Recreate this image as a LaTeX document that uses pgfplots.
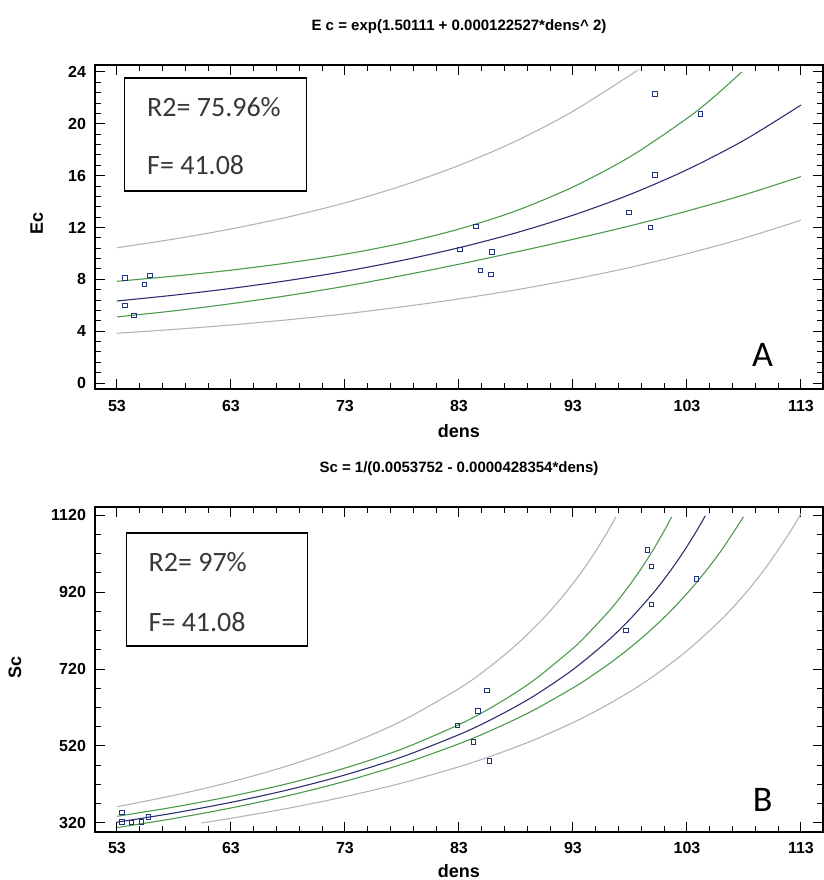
\documentclass[border=0pt]{standalone}
\usepackage{fontspec}
\setmainfont{Liberation Sans}
\newfontfamily\calib{Carlito}
\usepackage{pgfplots}
\pgfplotsset{compat=1.18}

\definecolor{fitline}{HTML}{2E2E72}
\definecolor{confband}{HTML}{4C9A4C}
\definecolor{predband}{HTML}{B4B4B4}
\definecolor{obs}{HTML}{1F3282}
\definecolor{boxtext}{HTML}{383838}

\tikzset{boxlbl/.style={anchor=west, text=boxtext, font=\calib\fontsize{14}{16}\selectfont}}

\pgfplotsset{
  regplot/.style={
    scale only axis, width=364pt,
    xmin=51.07, xmax=114.93,
    xtick={53,63,...,113}, minor x tick num=4,
    tick align=inside, major tick length=5pt, minor tick length=3pt,
    axis line style={line width=0.6pt},
    every tick/.style={black, line width=0.5pt},
    ticklabel style={font=\bfseries\fontsize{8}{9}\selectfont},
    xticklabel style={anchor=center, yshift=-8.5pt},
    yticklabel style={xshift=-1pt},
    /pgf/number format/assume math mode=true,
    /pgf/number format/1000 sep={},
    label style={font=\bfseries\fontsize{9}{10}\selectfont},
    every axis title shift=0pt,
    title style={font=\bfseries\fontsize{7.5}{9}\selectfont,
      at={(axis description cs:0.5,1)}, anchor=center, yshift=19pt},
    xlabel=dens,
  },
  fit/.style={fitline, line width=0.55pt, smooth, no marks},
  conf/.style={confband, line width=0.55pt, smooth, no marks},
  pred/.style={predband, line width=0.55pt, smooth, no marks},
  pts/.style={only marks, mark=square, mark size=1.1pt,
    mark options={obs, line width=0.45pt}},
}

\begin{document}
\begin{tikzpicture}
\path[use as bounding box] (-47.5pt,-24pt) rectangle (364.5pt,416pt);

% ---- A: Ec ----
\begin{axis}[regplot, at={(0pt,221.5pt)}, anchor=south west,
    height=162pt, ymin=-0.46, ymax=24.54,
    ytick={0,4,...,24}, minor y tick num=4,
    ylabel=Ec,
    ylabel style={at={(axis description cs:-0.08,0.512)}, anchor=center},
    xlabel style={at={(axis description cs:0.5,0)}, anchor=center, yshift=-21pt},
    title={E c = exp(1.50111 + 0.000122527*dens\textasciicircum\ 2)}]
\addplot[pred] coordinates {(53,10.44) (58,11.11) (63,11.89) (68,12.81) (73,13.90) (78,15.22) (83,16.79) (88,18.67) (93,20.97) (98,23.75) (98.4,24.0)};
\addplot[pred] coordinates {(53,3.84) (58,4.14) (63,4.48) (68,4.88) (73,5.34) (78,5.88) (83,6.49) (88,7.19) (93,8.00) (98,8.92) (103,9.98) (108,11.18) (113,12.56)};
\addplot[conf] coordinates {(53,7.85) (58,8.25) (63,8.71) (68,9.27) (73,9.94) (78,10.79) (83,11.88) (88,13.29) (93,15.13) (98,17.46) (103,20.42) (105.5,22.18) (107.8,24.0)};
\addplot[conf] coordinates {(53,5.10) (58,5.57) (63,6.12) (68,6.75) (73,7.47) (78,8.29) (83,9.17) (88,10.11) (93,11.09) (98,12.13) (103,13.27) (108,14.52) (113,15.93)};
\addplot[fit] coordinates {(53,6.33) (58,6.78) (63,7.30) (68,7.91) (73,8.62) (78,9.46) (83,10.44) (88,11.59) (93,12.95) (98,14.55) (103,16.46) (108,18.73) (113,21.45)};
\addplot[pts] coordinates {
  (53.7,8.1) (53.7,6.0) (54.5,5.2) (55.4,7.6) (55.9,8.3)
  (84.5,12.06) (83.1,10.3) (85.9,10.1) (84.9,8.67) (85.8,8.4)
  (100.2,22.3) (104.2,20.75) (100.2,16.07) (97.9,13.14) (99.8,12.0)};
\draw[black, line width=0.6pt] (rel axis cs:0.041,0.611) rectangle (rel axis cs:0.290,0.960);
\node[boxlbl] at (rel axis cs:0.062,0.870) {R2= 75.96\%};
\node[boxlbl] at (rel axis cs:0.062,0.691) {F= 41.08};
\node[font=\calib\fontsize{18}{20}\selectfont] at (rel axis cs:0.917,0.105) {A};
\end{axis}

% ---- B: Sc ----
\begin{axis}[regplot, at={(0pt,0pt)}, anchor=south west,
    height=162.5pt, ymin=296.6, ymax=1140.8,
    ytick={320,520,...,1120}, minor y tick num=3,
    ylabel=Sc,
    ylabel style={at={(axis description cs:-0.11,0.505)}, anchor=center},
    xlabel style={at={(axis description cs:0.5,0)}, anchor=center, yshift=-19.5pt},
    xticklabel style={yshift=0.5pt},
    title={Sc = 1/(0.0053752 - 0.0000428354*dens)}]
\addplot[pred] coordinates {(53,362.3) (58,391.8) (63,426.7) (68,468.8) (73,520.4) (78,585.3) (83,669.2) (85.5,721.2) (88,782.2) (90,839.1) (91,870.9) (92,905.1) (93,942.2) (94,982.6) (95,1026.7) (96,1074.9) (96.76,1115)};
\addplot[pred] coordinates {(60.4,320) (63,332.2) (68,358.2) (73,388.4) (78,423.8) (83,466.1) (85.5,490.4) (88,517.4) (90,541.0) (93,580.8) (95.5,618.6) (98,661.4) (100,700.1) (103,767.2) (106,848.3) (108,912.3) (110,986.7) (112,1074.1) (113,1123.7)};
\addplot[conf] coordinates {(53,337.4) (58,361.4) (63,389.4) (68,422.5) (73,462.6) (78,512.2) (83,575.6) (85.5,614.3) (88,659.1) (90,700.5) (93,773.8) (94,801.9) (96,865.1) (97,900.6) (98,939.3) (99,981.5) (100,1027.9) (101,1079.0) (101.65,1115)};
\addplot[conf] coordinates {(53,308.1) (58,331.7) (63,359.0) (68,390.9) (73,428.3) (78,472.7) (83,525.7) (85.5,556.3) (88,590.2) (90,620.2) (93,670.9) (94,689.5) (96,729.9) (98,775.2) (100,826.1) (102,884.0) (104,950.5) (106,1027.4) (107.95,1115)};
\addplot[fit] coordinates {(53,322.1) (58,345.9) (63,373.6) (68,406.1) (73,444.8) (78,491.6) (83,549.5) (85.5,583.8) (88,622.8) (90,657.9) (93,718.6) (96,791.8) (98,849.4) (100,916.0) (101,953.5) (102,994.0) (103,1038.2) (104,1086.6) (104.6,1117.8)};
\addplot[pts] coordinates {
  (53.45,347) (53.45,323) (54.25,321) (55.15,323) (55.75,336)
  (85.45,664) (84.65,611) (82.85,574) (84.25,530) (85.65,481)
  (99.55,1029) (99.9,987) (103.85,954) (99.9,888) (97.65,820)};
\draw[black, line width=0.6pt] (rel axis cs:0.043,0.572) rectangle (rel axis cs:0.292,0.920);
\node[boxlbl] at (rel axis cs:0.064,0.831) {R2= 97\%};
\node[boxlbl] at (rel axis cs:0.064,0.647) {F= 41.08};
\node[font=\calib\fontsize{18}{20}\selectfont] at (rel axis cs:0.917,0.098) {B};
\end{axis}
\end{tikzpicture}
\end{document}
